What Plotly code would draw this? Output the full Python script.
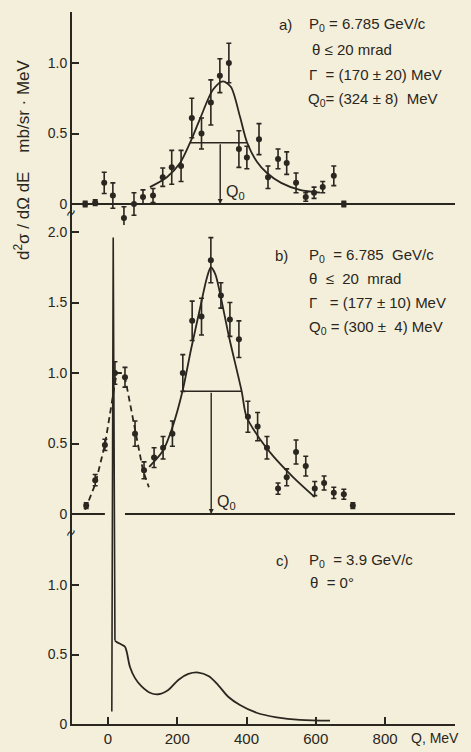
import plotly.graph_objects as go

# ---------------- data ----------------
# panel a) P0 = 6.785 GeV/c
a_q = [-66, -37, -11, 14, 46, 75, 101, 130, 158, 184, 211, 242, 270, 297, 323, 349,
       378, 401, 436, 462, 491, 516, 543, 571, 595, 620, 652, 681]
a_v = [0.0, 0.01, 0.15, 0.06, -0.10, 0.0, 0.05, 0.06, 0.19, 0.26, 0.27, 0.61, 0.50,
       0.72, 0.91, 1.0, 0.39, 0.33, 0.46, 0.19, 0.32, 0.29, 0.15, 0.05, 0.08, 0.12, 0.20, 0.0]
a_err = [0.02, 0.02, 0.075, 0.09, 0.08, 0.08, 0.05, 0.05, 0.065, 0.12, 0.11, 0.14, 0.11,
         0.16, 0.12, 0.14, 0.13, 0.08, 0.11, 0.08, 0.07, 0.08, 0.07, 0.03, 0.04, 0.04, 0.07, 0.02]
a_fit_q = [121, 170, 208, 237, 265, 303, 332, 355, 381, 401, 430, 459, 500, 554, 612]
a_fit_v = [0.12, 0.19, 0.29, 0.435, 0.6, 0.81, 0.87, 0.83, 0.62, 0.44, 0.30, 0.22, 0.15, 0.10, 0.08]
a_fwhm_q = [237, 401]
a_half = 0.435
a_q0 = 324

# panel b) P0 = 6.785 GeV/c
b_q = [-63, -37, -9, 20, 49, 78, 104, 133, 159, 186, 216, 243, 270, 297, 326, 352, 378,
       404, 432, 459, 491, 516, 543, 571, 597, 624, 652, 681, 707]
b_v = [0.06, 0.24, 0.49, 1.0, 0.97, 0.57, 0.31, 0.40, 0.47, 0.57, 1.0, 1.37, 1.40, 1.80,
       1.55, 1.38, 1.24, 0.69, 0.62, 0.47, 0.18, 0.26, 0.44, 0.34, 0.18, 0.22, 0.15, 0.14, 0.06]
b_err = [0.02, 0.04, 0.04, 0.08, 0.07, 0.09, 0.06, 0.07, 0.08, 0.09, 0.13, 0.14, 0.13, 0.16,
         0.09, 0.12, 0.13, 0.11, 0.10, 0.08, 0.04, 0.06, 0.085, 0.07, 0.05, 0.05, 0.04, 0.035, 0.02]
b_fit_q = [119, 159, 188, 215, 240, 265, 285, 297, 310, 323, 350, 386, 400, 439, 477, 535, 597]
b_fit_v = [0.335, 0.45, 0.63, 0.87, 1.17, 1.45, 1.67, 1.75, 1.70, 1.57, 1.25, 0.87, 0.69,
           0.53, 0.41, 0.26, 0.12]
b_dash_q = [-66, -37, -9, 14, 25, 40, 49, 78, 101, 118]
b_dash_v = [0.03, 0.21, 0.49, 0.83, 1.0, 1.0, 0.97, 0.6, 0.31, 0.19]
b_fwhm_q = [215, 386]
b_half = 0.87
b_q0 = 298
b_base_gap = [-9, 49]

# panel c) P0 = 3.9 GeV/c : narrow peak, then smooth continuum
c_peak_q = [11, 15, 20]
c_peak_v = [0.09, 3.5, 0.60]
c_q = [20, 25, 40, 49, 54, 63.5, 78, 97, 121, 145, 174, 203, 232, 261, 290, 318,
       347, 381, 429, 487, 554, 641]
c_v = [0.60, 0.59, 0.57, 0.556, 0.52, 0.41, 0.33, 0.27, 0.225, 0.214, 0.245,
       0.317, 0.36, 0.37, 0.345, 0.28, 0.196, 0.137, 0.081, 0.048, 0.029, 0.024]

x_ticks = [0, 200, 400, 600, 800]
a_yticks = [0, 0.5, 1.0]
a_ylabels = ["0", "0.5", "1.0"]
b_yticks = [0, 0.5, 1.0, 1.5, 2.0]
b_ylabels = ["0", "0.5", "1.0", "1.5", "2.0"]
c_yticks = [0, 0.5, 1.0]
c_ylabels = ["0", "0.5", "1.0"]

# ---------------- layout helpers ----------------
W, H = 471, 752
L, R, T, B = 72, 16, 12, 28
PB = H - B
PH = H - T - B
def fy(py):
    return (PB - py) / PH
def fx(px):
    return (px - L) / (W - L - R)

INK = "#2a2620"
BG = "#f4efda"
FONT = "Liberation Sans"
XR = [-104, 1002]

fig = go.Figure()

def pts(q, v, e, xa, ya):
    fig.add_trace(go.Scatter(x=q, y=v, mode="markers", xaxis=xa, yaxis=ya,
                             marker=dict(color=INK, size=6),
                             error_y=dict(type="data", array=e, color=INK, thickness=1.6, width=2.5),
                             showlegend=False, cliponaxis=False))

def curve(q, v, xa, ya, dash="solid", shape="spline", width=1.8, smoothing=0.8):
    fig.add_trace(go.Scatter(x=q, y=v, mode="lines", xaxis=xa, yaxis=ya,
                             line=dict(color=INK, width=width, dash=dash, shape=shape,
                                       smoothing=smoothing),
                             showlegend=False))

# panel a
curve(a_fit_q, a_fit_v, "x", "y")
pts(a_q, a_v, a_err, "x", "y")
# panel b
curve(b_fit_q, b_fit_v, "x2", "y2")
curve(b_dash_q, b_dash_v, "x2", "y2", dash="6px,4px", shape="linear")
pts(b_q, b_v, b_err, "x2", "y2")
# panel c axes (empty trace so the subplot is drawn)
fig.add_trace(go.Scatter(x=[], y=[], xaxis="x3", yaxis="y3", showlegend=False))
# panel c curve (overlay axis with the same scale, so the narrow peak reaches into b)
curve(c_peak_q, c_peak_v, "x4", "y4", shape="linear", width=1.6)
curve(c_q, c_v, "x4", "y4", shape="spline", width=1.8, smoothing=1.0)

shapes = []
shapes.append(dict(type="line", xref="x", yref="y", x0=a_fwhm_q[0], x1=a_fwhm_q[1],
                   y0=a_half, y1=a_half, line=dict(color=INK, width=1.5)))
shapes.append(dict(type="line", xref="x2", yref="y2", x0=b_fwhm_q[0], x1=b_fwhm_q[1],
                   y0=b_half, y1=b_half, line=dict(color=INK, width=1.5)))
shapes.append(dict(type="line", xref="x2", yref="y2", x0=XR[0], x1=b_base_gap[0],
                   y0=0, y1=0, line=dict(color=INK, width=1.8)))
shapes.append(dict(type="line", xref="x2", yref="y2", x0=b_base_gap[1], x1=XR[1],
                   y0=0, y1=0, line=dict(color=INK, width=1.8)))

annotations = []
for q0, half, xa, ya in [(a_q0, a_half, "x", "y"), (b_q0, b_half, "x2", "y2")]:
    annotations.append(dict(x=q0, y=0, xref=xa, yref=ya, ax=q0, ay=half, axref=xa, ayref=ya,
                            showarrow=True, arrowhead=2, arrowsize=0.7, arrowwidth=1.4,
                            arrowcolor=INK, text=""))
    annotations.append(dict(x=q0 + 12, y=0.0, xref=xa, yref=ya, xanchor="left", yanchor="bottom",
                            showarrow=False, text="Q<sub>0</sub>",
                            font=dict(family=FONT, size=16, color=INK)))

def txt(px, py, s, size=15):
    annotations.append(dict(x=fx(px), y=fy(py), xref="paper", yref="paper", xanchor="left",
                            yanchor="middle", showarrow=False, text=s,
                            font=dict(family=FONT, size=size, color=INK)))

txt(277, 25, "a)")
txt(307, 25, "P<sub>0</sub> = 6.785 GeV/c")
txt(310, 50, "θ ≤ 20 mrad")
txt(307, 75, "Γ  = (170 ± 20) MeV")
txt(306, 100, "Q<sub>0</sub>= (324 ± 8)  MeV")

txt(273, 256, "b)")
txt(307, 256, "P<sub>0</sub>  = 6.785  GeV/c")
txt(307, 278, "θ  ≤  20  mrad")
txt(307, 302, "Γ   = (177 ± 10) MeV")
txt(307, 327, "Q<sub>0</sub> = (300 ±  4) MeV")

txt(274, 560, "c)")
txt(307, 560, "P<sub>0</sub>  = 3.9 GeV/c")
txt(308, 582, "θ  = 0°")

txt(409, 738, "Q, MeV", size=14)

annotations.append(dict(x=fx(22), y=fy(160), xref="paper", yref="paper", showarrow=False,
                        xanchor="center", yanchor="middle",
                        textangle=-90, text="d<sup>2</sup>σ / dΩ dE    mb/sr · MeV",
                        font=dict(family=FONT, size=17, color=INK)))
for py in (213, 533):
    annotations.append(dict(x=fx(70), y=fy(py), xref="paper", yref="paper", showarrow=False,
                            xanchor="center", yanchor="middle",
                            text="≈", textangle=-60, borderpad=0,
                            font=dict(family=FONT, size=16, color=INK)))

# ---------------- axes ----------------
def dom_rng(py_top, py_bot, px_zero, ppu):
    return ([fy(py_bot), fy(py_top)], [(px_zero - py_bot) / ppu, (px_zero - py_top) / ppu])

a_dom, a_rng = dom_rng(12, 225, 204, 141)
b_dom, b_rng = dom_rng(212, 530, 514, 141)
c_dom, c_rng = dom_rng(530, 724, 724, 139)
o_dom, o_rng = dom_rng(212, 724, 724, 139)

yax = dict(showline=True, linecolor=INK, linewidth=1.8, ticks="inside", ticklen=7,
           tickwidth=1.6, tickcolor=INK, showgrid=False, zeroline=False,
           tickfont=dict(family=FONT, size=14, color=INK))
hidden_x = dict(range=XR, visible=False, showgrid=False, zeroline=False)

fig.update_layout(
    width=W, height=H, margin=dict(l=L, r=R, t=T, b=B, autoexpand=False),
    paper_bgcolor=BG, plot_bgcolor="rgba(0,0,0,0)",
    showlegend=False, shapes=shapes, annotations=annotations,
    xaxis=dict(hidden_x, domain=[0, 1], anchor="y"),
    xaxis2=dict(hidden_x, domain=[0, 1], anchor="y2"),
    xaxis3=dict(range=XR, domain=[0, 1], anchor="y3", showline=True, linecolor=INK,
                linewidth=1.8, ticks="inside", ticklen=7, tickwidth=1.6, tickcolor=INK,
                tickvals=x_ticks, showgrid=False, zeroline=False,
                tickfont=dict(family=FONT, size=15, color=INK)),
    xaxis4=dict(hidden_x, domain=[0, 1], anchor="y4"),
    yaxis=dict(yax, domain=a_dom, range=a_rng, anchor="x", tickvals=a_yticks,
               ticktext=a_ylabels, zeroline=True, zerolinecolor=INK, zerolinewidth=1.8),
    yaxis2=dict(yax, domain=b_dom, range=b_rng, anchor="x2", tickvals=b_yticks,
                ticktext=b_ylabels),
    yaxis3=dict(yax, domain=c_dom, range=c_rng, anchor="x3", tickvals=c_yticks,
                ticktext=c_ylabels),
    yaxis4=dict(domain=o_dom, range=o_rng, anchor="x4", visible=False, showgrid=False,
                zeroline=False),
)

fig.write_html("out.html", config={"displayModeBar": False}, post_script=(
    "document.body.style.margin='0';document.body.style.background='" + BG + "';"))
